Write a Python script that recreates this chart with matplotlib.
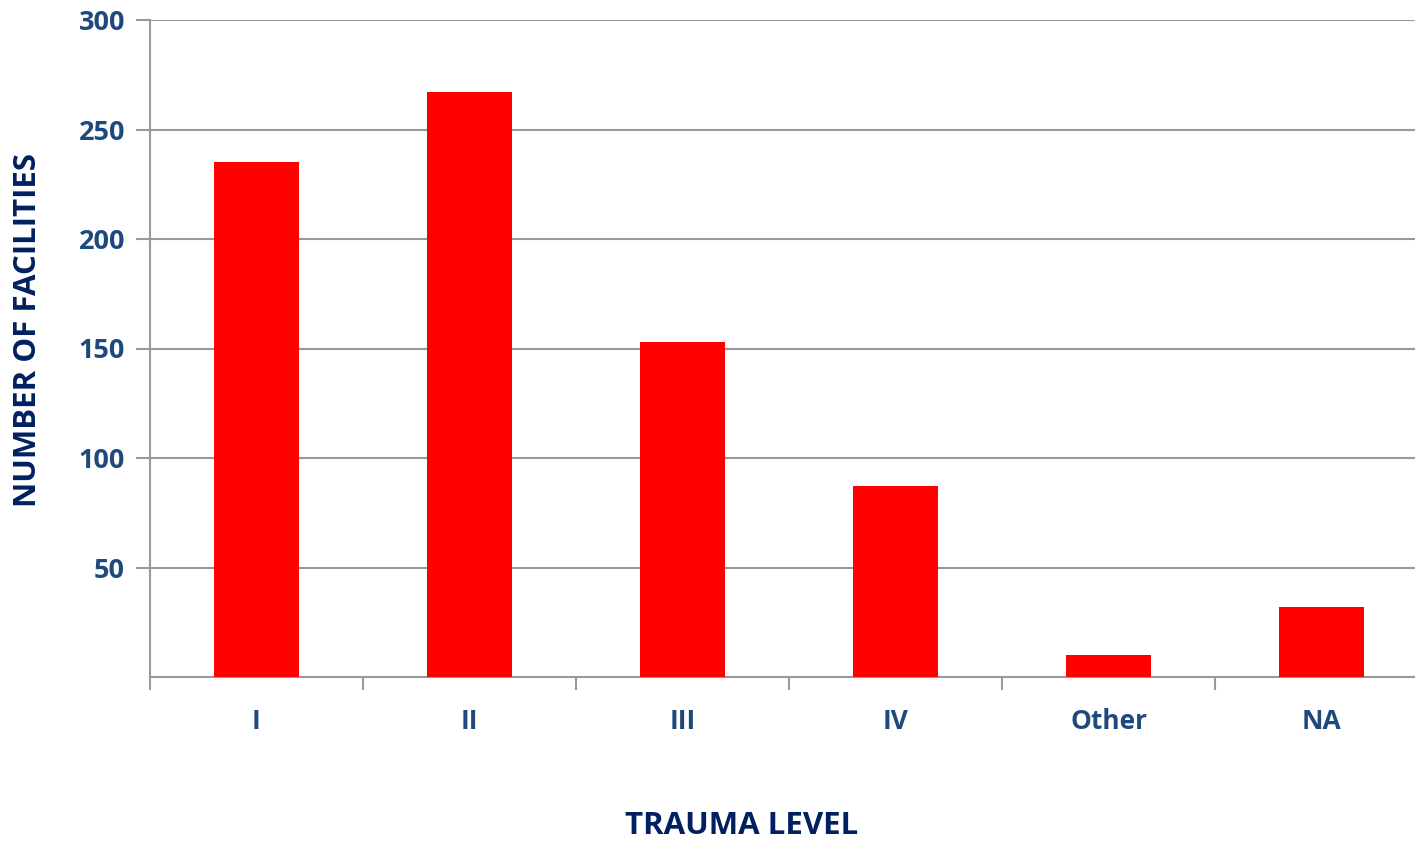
import numpy as np
import matplotlib
matplotlib.use('Agg')
import matplotlib.pyplot as plt

# trauma level counts
levels = ["I", "II", "III", "IV", "Other", "NA"]
counts = [235, 267, 153, 87, 10, 32]
yticks = [50, 100, 150, 200, 250, 300]

tick_col = "#1F497D"
title_col = "#002060"
grid_col = "#999999"

plt.rcParams['font.family'] = ['Open Sans', 'DejaVu Sans']

fig = plt.figure(figsize=(14.15, 8.41), dpi=100)
ax = fig.add_axes([150/1415, 1 - 677/841, 1278/1415, 657/841])

x = np.arange(len(levels))
ax.bar(x, counts, width=0.4, color="#FF0000", zorder=3)

ax.set_xlim(-0.5, len(levels) - 0.5)
ax.set_ylim(0, 300)

ax.set_yticks(yticks)
ax.set_yticklabels([str(v) for v in yticks], fontsize=19.5, fontweight='bold', color=tick_col)
ax.yaxis.grid(True, color=grid_col, linewidth=1.5, zorder=0)
ax.tick_params(axis='y', length=10, width=1.5, color=grid_col, pad=8)

# category labels centred, tick marks on the boundaries
ax.set_xticks(np.arange(len(levels) + 1) - 0.5)
ax.set_xticklabels([])
ax.tick_params(axis='x', length=9, width=1.5, color=grid_col)
ax.set_xticks(x, minor=True)
ax.set_xticklabels(levels, minor=True, fontsize=19, fontweight='bold', color=tick_col)
ax.tick_params(axis='x', which='minor', length=0, pad=22)

for s in ['top', 'right']:
    ax.spines[s].set_visible(False)
for s in ['left', 'bottom']:
    ax.spines[s].set_color(grid_col)
    ax.spines[s].set_linewidth(1.5)

fig.text(742/1415, 1 - 826/841, "TRAUMA LEVEL", ha='center', va='center',
         fontsize=22.5, fontweight='bold', color=title_col)
fig.text(28/1415, 1 - 330/841, "NUMBER OF FACILITIES", ha='center', va='center',
         rotation=90, fontsize=22.5, fontweight='bold', color=title_col)

fig.savefig("out.png", dpi=100)
